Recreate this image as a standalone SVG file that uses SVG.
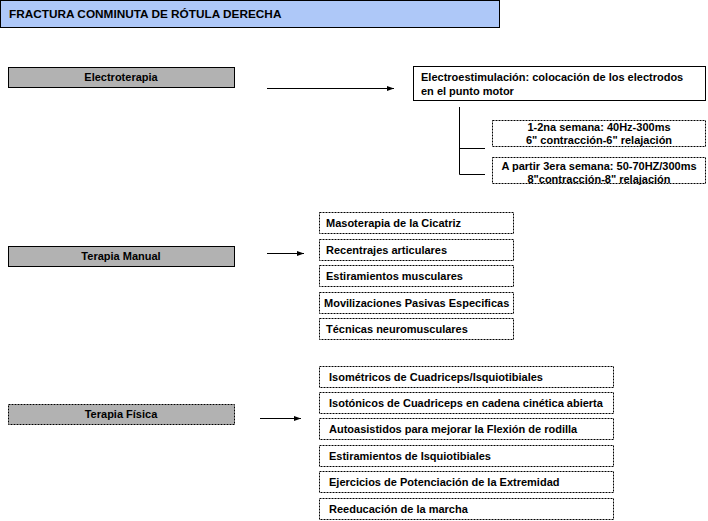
<svg xmlns="http://www.w3.org/2000/svg" width="708" height="521" viewBox="0 0 708 521">
<defs>
<marker id="ah" markerWidth="8" markerHeight="6" refX="7" refY="3" orient="auto" markerUnits="userSpaceOnUse">
<path d="M0,0.5 L7,3 L0,5.5 Z" fill="#000"/>
</marker>
<style>
text{font-family:"Liberation Sans",Arial,sans-serif;font-size:11px;font-weight:bold;fill:#000}
.title{fill:#aec8f8;stroke:#000;stroke-width:1}
.cat{fill:#b2b2b2;stroke:#000;stroke-width:1}
.box{fill:#fff;stroke:#000;stroke-width:1;stroke-dasharray:2 1}
.sbox{fill:#fff;stroke:#000;stroke-width:1}
.c{text-anchor:middle}
.ln{stroke:#000;stroke-width:1;fill:none}
</style>
</defs>
<rect width="708" height="521" fill="#fff"/>
<g id="title"><rect class="title" x="0.5" y="0.5" width="499" height="27"/><text x="9" y="18" style="font-size:11.8px">FRACTURA CONMINUTA DE RÓTULA DERECHA</text></g>

<g id="electroterapia"><rect class="cat" x="8.5" y="67.5" width="226" height="20"/><text class="c" x="121" y="81">Electroterapia</text></g>
<g id="electroestimulacion"><rect class="sbox" x="413.5" y="66.5" width="292" height="34"/><text x="421" y="81">Electroestimulación: colocación de los electrodos</text><text x="421" y="95">en el punto motor</text></g>
<g id="semana12"><rect class="box" x="492.5" y="120.5" width="213" height="26"/><text class="c" x="599" y="131">1-2na semana: 40Hz-300ms</text><text class="c" x="599" y="144">6" contracción-6" relajación</text></g>
<g id="semana3"><rect class="box" x="492.5" y="157.5" width="213" height="26"/><text class="c" x="599" y="170">A partir 3era semana: 50-70HZ/300ms</text><text class="c" x="599" y="183">8"contracción-8" relajación</text></g>

<g id="terapia-manual"><rect class="cat" x="8.5" y="246.5" width="226" height="20"/><text class="c" x="121" y="260">Terapia Manual</text></g>
<g id="masoterapia"><rect class="box" x="319.5" y="212.5" width="194" height="21"/><text x="326" y="227">Masoterapia de la Cicatriz</text></g>
<g id="recentrajes"><rect class="box" x="319.5" y="239.5" width="194" height="21"/><text x="326" y="254">Recentrajes articulares</text></g>
<g id="estiramientos-m"><rect class="box" x="319.5" y="265.5" width="194" height="21"/><text x="326" y="280">Estiramientos musculares</text></g>
<g id="movilizaciones"><rect class="box" x="319.5" y="292.5" width="194" height="21"/><text x="324" y="307">Movilizaciones Pasivas Especificas</text></g>
<g id="tecnicas"><rect class="box" x="319.5" y="318.5" width="194" height="21"/><text x="326" y="333">Técnicas neuromusculares</text></g>

<g id="terapia-fisica"><rect class="cat" x="8.5" y="404.5" width="226" height="20" stroke-dasharray="2 1"/><text class="c" x="121" y="418">Terapia Física</text></g>
<g id="isometricos"><rect class="box" x="319.5" y="366.5" width="294" height="21"/><text x="329" y="381">Isométricos de Cuadriceps/Isquiotibiales</text></g>
<g id="isotonicos"><rect class="box" x="319.5" y="392.5" width="294" height="21"/><text x="329" y="407">Isotónicos de Cuadriceps en cadena cinética abierta</text></g>
<g id="autoasistidos"><rect class="box" x="319.5" y="418.5" width="294" height="21"/><text x="329" y="433">Autoasistidos para mejorar la Flexión de rodilla</text></g>
<g id="estiramientos-i"><rect class="box" x="319.5" y="445.5" width="294" height="21"/><text x="329" y="460">Estiramientos de Isquiotibiales</text></g>
<g id="ejercicios"><rect class="box" x="319.5" y="471.5" width="294" height="21"/><text x="329" y="486">Ejercicios de Potenciación de la Extremidad</text></g>
<g id="reeducacion"><rect class="box" x="319.5" y="498.5" width="294" height="21"/><text x="329" y="513">Reeducación de la marcha</text></g>

<g id="connectors">
<line class="ln" x1="267" y1="88.5" x2="394" y2="88.5" marker-end="url(#ah)"/>
<polyline class="ln" points="459.5,107 459.5,174.5 485,174.5"/>
<line class="ln" x1="459.5" y1="148.5" x2="485" y2="148.5"/>
<line class="ln" x1="267" y1="253.5" x2="304" y2="253.5" marker-end="url(#ah)"/>
<line class="ln" x1="260" y1="418.5" x2="301" y2="418.5" marker-end="url(#ah)"/>
</g>
</svg>
